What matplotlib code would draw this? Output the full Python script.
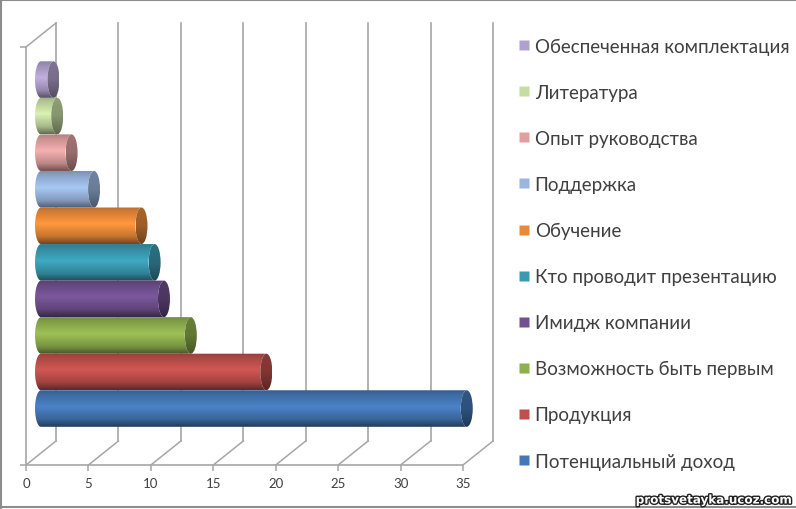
import numpy as np
import matplotlib
matplotlib.use('Agg')
import matplotlib.pyplot as plt
import matplotlib.patheffects as pe
from matplotlib.colors import to_rgb
from matplotlib.lines import Line2D
from matplotlib.patches import Ellipse, Polygon
from matplotlib.transforms import ScaledTranslation

plt.rcParams['font.family'] = ['Lato', 'Open Sans', 'DejaVu Sans']

# Data
labels = ['Потенциальный доход', 'Продукция', 'Возможность быть первым', 'Имидж компании',
          'Кто проводит презентацию', 'Обучение', 'Поддержка', 'Опыт руководства',
          'Литература', 'Обеспеченная комплектация']
values = [34.1, 18.05, 12.0, 9.85, 9.1, 8.05, 4.25, 2.45, 1.3, 1.0]
colors = ['#4477b5', '#bf4f4c', '#8fb04f', '#70508f', '#3a9ab2',
          '#ea8a38', '#9ab6e0', '#e0a0a0', '#c6dca2', '#b0a0cc']
x_ticks = [0, 5, 10, 15, 20, 25, 30, 35]

W, H = 796, 510
GRID = '#a6a6a6'

fig = plt.figure(figsize=(W / 100, H / 100), dpi=100)
ax = fig.add_axes([26 / W, 1 - 466 / H, 437 / W, 418 / H])
ax.patch.set_visible(False)

# depth offsets of the fake 3d box, in pixels
wall_trans = ax.transData + ScaledTranslation(0.30, 0.24, fig.dpi_scale_trans)
bar_trans = ax.transData + ScaledTranslation(0.15, 0.12, fig.dpi_scale_trans)
y_min, y_max = -1.217, 10.22
cap_w = 0.48


def shaded(color, stops, levels):
    t = np.linspace(0, 1, 64)
    s = np.interp(t, stops, levels)
    return np.clip(np.array(to_rgb(color))[None, None, :] * s[:, None, None], 0, 1)


# walls and floor
for v in x_ticks:
    ax.plot([v, v], [y_min, y_max], color=GRID, lw=1.2, transform=wall_trans, clip_on=False, zorder=1)
    ax.plot([v, v + 30 / 12.49], [y_min, y_min + 24 / 36.55], color=GRID, lw=1.1, clip_on=False, zorder=1)
ax.plot([0, 30 / 12.49], [y_max, y_max + 24 / 36.55], color=GRID, lw=1.1, clip_on=False, zorder=1)

# cylinders, lowest first so upper ones sit behind
for i, (val, col) in enumerate(zip(values, colors)):
    theta = np.linspace(np.pi / 2, 3 * np.pi / 2, 40)
    left = np.c_[cap_w * np.cos(theta), i + 0.5 * np.sin(theta)]
    right = np.c_[val + cap_w * np.cos(theta[::-1]), i + 0.5 * np.sin(theta[::-1])]
    body = Polygon(np.r_[left, right], closed=True, transform=bar_trans, fc='none', ec='none')
    ax.add_patch(body)
    im = ax.imshow(shaded(col, [0, 0.12, 0.45, 0.8, 1], [0.8, 0.9, 1.1, 0.84, 0.5]),
                   extent=[-cap_w, val + cap_w, i - 0.5, i + 0.5], aspect='auto', origin='upper',
                   interpolation='bilinear', transform=bar_trans, zorder=3 + (10 - i))
    im.set_clip_box(fig.bbox)
    im.set_clip_path(body)
    cap = Ellipse((val, i), 2 * cap_w, 1.0, transform=bar_trans, fc='none', ec='none')
    ax.add_patch(cap)
    im2 = ax.imshow(shaded(col, [0, 0.5, 1], [0.72, 0.68, 0.48]),
                    extent=[val - cap_w, val + cap_w, i - 0.5, i + 0.5], aspect='auto', origin='upper',
                    interpolation='bilinear', transform=bar_trans, zorder=3.5 + (10 - i))
    im2.set_clip_box(fig.bbox)
    im2.set_clip_path(cap)

ax.set_xlim(0, 35)
ax.set_ylim(y_min, y_max)
ax.set_xticks(x_ticks)
ax.set_yticks([y_min, y_max])
ax.set_yticklabels([])
ax.tick_params(axis='x', colors=GRID, labelcolor='#404040', labelsize=9.5, length=4, pad=5, width=1.1)
ax.tick_params(axis='y', colors=GRID, length=4, width=1.1)
for side in ['top', 'right']:
    ax.spines[side].set_visible(False)
for side in ['left', 'bottom']:
    ax.spines[side].set_color(GRID)
    ax.spines[side].set_linewidth(1.2)

# legend
handles = [Line2D([], [], ls='none', marker='s', ms=7, mfc=c, mec='none', label=l)
           for l, c in zip(labels[::-1], colors[::-1])]
fig.legend(handles=handles, loc='upper left', bbox_to_anchor=(508 / W, 1 - 33 / H), frameon=False,
           fontsize=13.5, labelspacing=1.55, handletextpad=0.0, handlelength=1.12, labelcolor='#404040',
           borderpad=0.3, borderaxespad=0)

# picture frame
for xs, ys in [([0, 1], [0.999, 0.999]), ([0.001, 0.001], [0, 1]), ([0, 1], [2 / H, 2 / H])]:
    fig.add_artist(Line2D(xs, ys, color='#8c8c8c', lw=1.5))

# watermark
fig.text(791 / W, 1 - 501 / H, 'protsvetayka.ucoz.com', ha='right', va='center', fontsize=8.6,
         fontweight='bold', family='DejaVu Sans', color='white',
         path_effects=[pe.withStroke(linewidth=2, foreground='#202020')])

plt.savefig('out.png', dpi=100)
